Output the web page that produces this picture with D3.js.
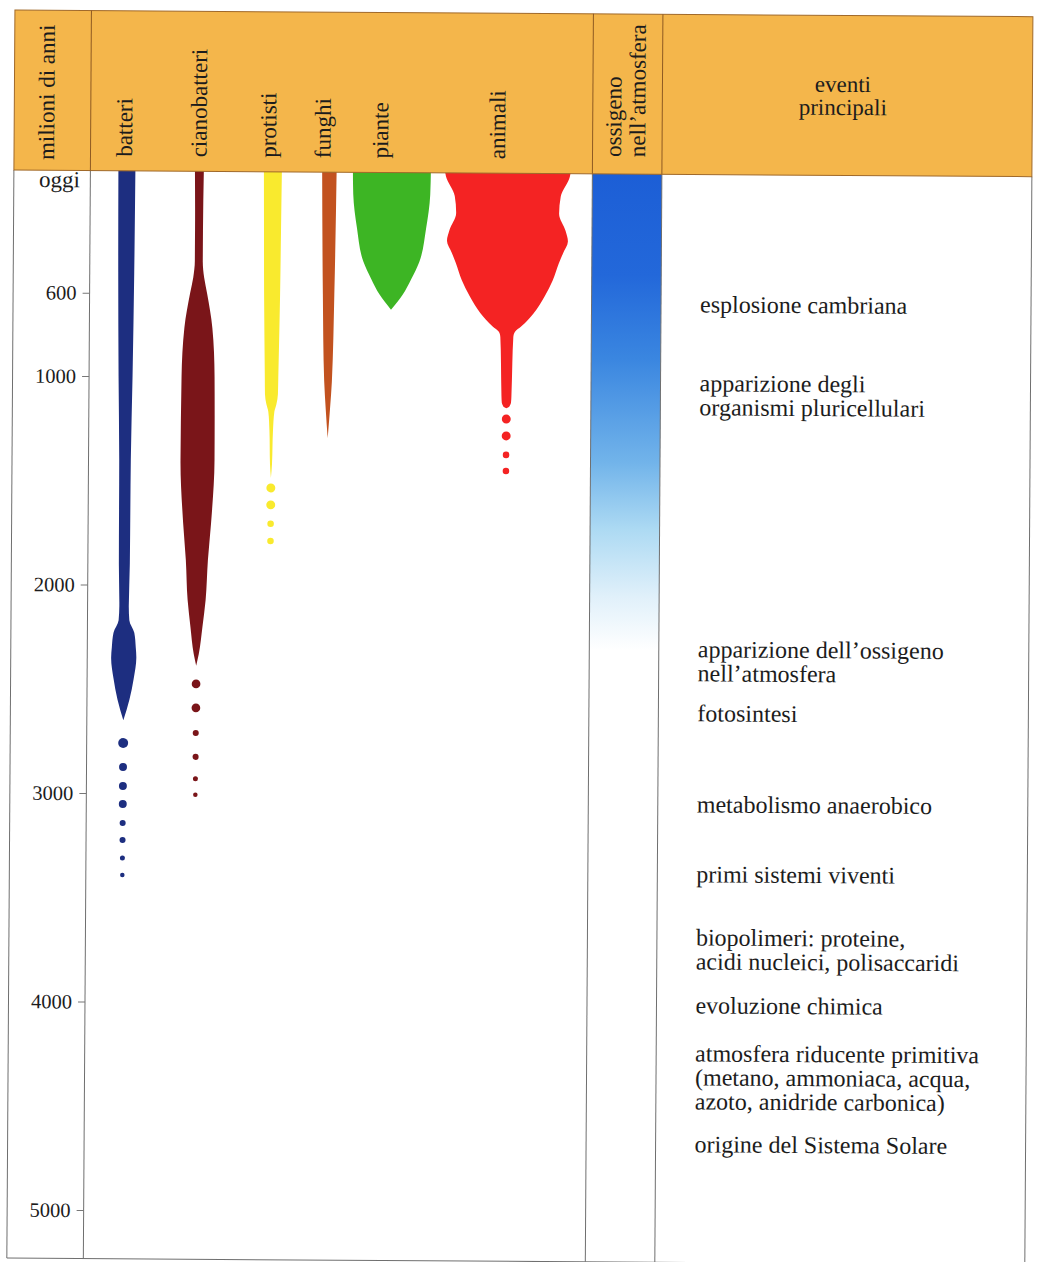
<!DOCTYPE html>
<html>
<head>
<meta charset="utf-8">
<script src="https://cdn.jsdelivr.net/npm/d3@7"></script>
<style>
  body { margin: 0; background: #fff; }
  svg { display: block; font-family: "Liberation Serif", "Times New Roman", serif; }
  svg text { font-family: "Liberation Serif", "Times New Roman", serif; }
</style>
</head>
<body>
<svg id="chart" width="1038" height="1262"></svg>
<script>
// tempo in milioni di anni
const tickValues = [600, 1000, 2000, 3000, 4000, 5000];
const topLabel = "oggi";
const axisTitle = "milioni di anni";
const groups = ["batteri", "cianobatteri", "protisti", "funghi", "piante", "animali"];

// profili: [milioni di anni, ampiezza relativa 0-100]
const batteri = [[0,13.5],[500,12.7],[1000,11.1],[1400,9.2],[1900,8.7],[2100,7.5],[2170,8.5],[2230,16.5],[2300,19],[2350,20],[2450,16],[2550,9.5],[2650,0]];
const cianobatteri = [[0,7.1],[300,6.3],[445,6.3],[525,8.7],[600,13.5],[765,22.2],[1000,26.2],[1400,27],[1700,22.2],[1880,17.5],[2070,14.3],[2200,9.5],[2330,4],[2386,0]];
const protisti = [[0,14.3],[300,13.5],[600,12.7],[1000,10.7],[1080,10.3],[1130,7.9],[1165,4.8],[1257,2.8],[1416,1.6],[1483,0]];
const funghi = [[0,11.5],[600,9.1],[1018,6.1],[1150,3.4],[1291,0]];
const piante = [[0,61.9],[120,61.1],[283,54.8],[442,44.4],[525,31.7],[600,18.3],[672,0]];
const animali = [[0,100],[29,98.4],[125,84.1],[206,81.7],[288,92.1],[340,96],[398,88.1],[446,81.7],[527,72.2],[604,59.5],[686,42.1],[748,23],[775,12.7],[800,10.3],[925,9],[1084,7.9],[1115,7.3],[1128,5.6],[1137,3.2],[1141,0]];

// punti (testimonianze incerte): [milioni di anni, diametro relativo]
const puntiBatteri = [[2759,7.9],[2874,6.3],[2965,6.3],[3051,6.3],[3142,4.8],[3224,4.8],[3310,4],[3392,3.6]];
const puntiCianobatteri = [[2473,6.9],[2588,6.9],[2708,4.8],[2823,4.8],[2928,4],[3005,3.6]];
const puntiProtisti = [[1531,7.1],[1612,7.1],[1703,5.2],[1785,5.2]];
const puntiAnimali = [[1193,7.1],[1274,7.1],[1365,5.2],[1442,5.2]];

// ossigeno nell'atmosfera: [milioni di anni, colore]
const ossigeno = [[0,"#1c5ed6"],[500,"#2368da"],[900,"#3a86e0"],[1400,"#72b4ea"],[1720,"#addaf3"],[2040,"#e0f0fa"],[2300,"#ffffff"]];

// eventi principali: [milioni di anni, righe]
const eventi = [
  [645,  ["esplosione cambriana"]],
  [1023, ["apparizione degli", "organismi pluricellulari"]],
  [2299, ["apparizione dell\u2019ossigeno", "nell\u2019atmosfera"]],
  [2606, ["fotosintesi"]],
  [3043, ["metabolismo anaerobico"]],
  [3378, ["primi sistemi viventi"]],
  [3681, ["biopolimeri: proteine,", "acidi nucleici, polisaccaridi"]],
  [4007, ["evoluzione chimica"]],
  [4237, ["atmosfera riducente primitiva", "(metano, ammoniaca, acqua,", "azoto, anidride carbonica)"]],
  [4673, ["origine del Sistema Solare"]]
];

const profiles = [batteri, cianobatteri, protisti, funghi, piante, animali];
const dots = [puntiBatteri, puntiCianobatteri, puntiProtisti, null, null, puntiAnimali];

// layout
const left = 15, divider = 91.5, oxL = 593.5, oxR = 663, right = 1033;
const headTop = 10, headBot = 170, bottom = 1258;
const centers = [128, 200.5, 274, 330.5, 393, 509];
const labelX = [133, 207.5, 277, 331.5, 389, 506];
const colors = ["#1d2e80", "#7a1519", "#f9ea2e", "#c2521f", "#3db524", "#f42323"];
const ink = "#1c1c1c";

const svg = d3.select("#chart");
const g = svg.append("g").attr("transform", "rotate(0.372)");

const y = d3.scaleLinear().domain([0, 5000]).range([167, 1209.5]);
const w = d3.scaleLinear().domain([0, 100]).range([0, 126]);

// gradiente ossigeno
const grad = svg.append("defs").append("linearGradient")
  .attr("id", "ox").attr("gradientUnits", "userSpaceOnUse")
  .attr("x1", 0).attr("x2", 0).attr("y1", y(0)).attr("y2", y(2300));
grad.selectAll("stop").data(ossigeno).join("stop")
  .attr("offset", d => d[0] / 2300)
  .attr("stop-color", d => d[1]);

g.append("rect")
  .attr("x", oxL).attr("width", oxR - oxL)
  .attr("y", y(0)).attr("height", y(2300) - y(0))
  .attr("fill", "url(#ox)");

// forme
profiles.forEach((p, i) => {
  const cx = centers[i];
  const area = d3.area()
    .y(d => y(d[0]))
    .x0(d => cx - w(d[1]) / 2)
    .x1(d => cx + w(d[1]) / 2)
    .curve(d3.curveMonotoneY);
  g.append("path").datum(p).attr("d", area).attr("fill", colors[i]);

  if (dots[i]) {
    g.selectAll(null).data(dots[i]).join("circle")
      .attr("cx", cx)
      .attr("cy", d => y(d[0]))
      .attr("r", d => w(d[1]) / 2)
      .attr("fill", colors[i]);
  }
});

// linee verticali del corpo
g.selectAll(null).data([left, divider, oxL, oxR, right]).join("line")
  .attr("x1", d => d).attr("x2", d => d)
  .attr("y1", headBot).attr("y2", bottom)
  .attr("stroke", "#6f6f6f").attr("stroke-width", 1);
g.append("line")
  .attr("x1", left).attr("x2", right).attr("y1", bottom).attr("y2", bottom)
  .attr("stroke", "#6f6f6f");

// asse del tempo
const axis = g.append("g")
  .attr("transform", `translate(${divider},0)`)
  .call(d3.axisLeft(y).tickValues(tickValues).tickSize(7).tickPadding(6).tickFormat(d3.format("d")))
  .attr("font-family", null)
  .attr("font-size", null);
axis.select(".domain").remove();
axis.selectAll(".tick line").attr("stroke", "#777");
axis.selectAll(".tick text")
  .attr("fill", ink)
  .style("font-size", "20.5px");

g.append("text")
  .attr("x", 81).attr("y", y(0) + 12.5).attr("dy", "0.32em")
  .attr("text-anchor", "end")
  .attr("fill", ink).style("font-size", "23px")
  .text(topLabel);

// intestazione
g.append("rect")
  .attr("x", left).attr("y", headTop)
  .attr("width", right - left).attr("height", headBot - headTop)
  .attr("fill", "#f4b64b").attr("stroke", "#a0692a").attr("stroke-width", 1);
g.selectAll(null).data([divider, oxL, oxR]).join("line")
  .attr("x1", d => d).attr("x2", d => d)
  .attr("y1", headTop).attr("y2", headBot)
  .attr("stroke", "#8e5a22").attr("stroke-width", 1);

const vlabel = (x, y0, txt) => g.append("text")
  .attr("transform", `translate(${x},${y0}) rotate(-90)`)
  .attr("fill", ink).style("font-size", "23px")
  .text(txt);

vlabel(55, 159.7, axisTitle);
groups.forEach((name, i) => vlabel(labelX[i], 156, name));
vlabel(622, 153, "ossigeno");
vlabel(646, 153, "nell\u2019atmosfera");

g.append("text")
  .attr("x", 843.5).attr("y", 86.5)
  .attr("text-anchor", "middle").attr("fill", ink).style("font-size", "23px")
  .selectAll("tspan").data(["eventi", "principali"]).join("tspan")
  .attr("x", 843.5).attr("dy", (d, i) => i ? 23 : 0)
  .text(d => d);

// eventi
const ev = g.selectAll(".evento").data(eventi).join("text")
  .attr("class", "evento")
  .attr("x", 702).attr("y", d => y(d[0]))
  .attr("fill", ink).style("font-size", "24px");
ev.selectAll("tspan").data(d => d[1]).join("tspan")
  .attr("x", 702)
  .attr("dy", (d, i) => i ? "1.0em" : "0.27em")
  .text(d => d);
</script>
</body>
</html>
